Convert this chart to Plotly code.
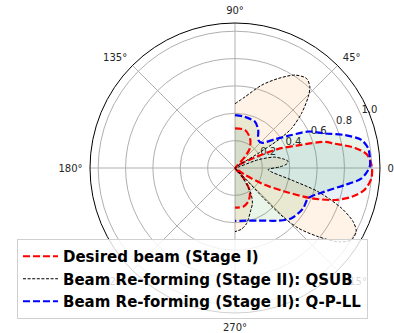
import plotly.graph_objects as go

# Beam patterns over the front half-plane (degrees, normalised gain)
theta_desired = [90, 75, 63, 53, 48.5, 43, 35, 28, 24, 20, 16.3, 13.7, 9.5, 5.8, 0.7,
                 -4.3, -9.6, -13.8, -17.7, -21.6, -25.4, -29.5, -35, -43, -50, -57.7,
                 -68.5, -78, -90]
r_desired = [0.29, 0.287, 0.243, 0.18, 0.11, 0.0, 0.05, 0.16, 0.34, 0.48, 0.68, 0.75,
             0.89, 0.97, 1.0, 1.0, 0.96, 0.88, 0.77, 0.60, 0.40, 0.25, 0.08, 0.0, 0.1,
             0.205, 0.264, 0.289, 0.29]

theta_qsub = [90, 82, 72.2, 64.2, 57.2, 51.4, 47.3, 44.2, 39.4, 35, 32.9, 32.2, 30,
              19.6, 15.4, 10.5, 7.5, 4.5, 1.5, -2.9, -12, -15.9, -20.7, -24.4, -27.6,
              -31.7, -35.5, -39.5, -43.5, -45.5, -46.5, -48, -52, -58, -64, -69.6,
              -78, -84, -90]
r_qsub = [0.47, 0.525, 0.636, 0.727, 0.808, 0.838, 0.807, 0.747, 0.63, 0.505, 0.376,
          0.2, 0.0, 0.18, 0.30, 0.36, 0.39, 0.38, 0.33, 0.243, 0.423, 0.632, 0.833,
          0.948, 1.0, 1.0, 0.93, 0.79, 0.64, 0.50, 0.30, 0.0, 0.1, 0.22, 0.29, 0.33,
          0.413, 0.45, 0.465]

theta_qpll = [90, 79, 66.6, 58.5, 50.2, 43.5, 35.7, 30.2, 26.4, 21, 16.7, 12.5, 8.4,
              4.8, 0.5, -4.7, -8.8, -14.7, -22.5, -30.5, -41.6, -50.6, -66.1, -90]
r_qpll = [0.387, 0.381, 0.368, 0.325, 0.266, 0.268, 0.36, 0.479, 0.60, 0.704, 0.838,
          0.947, 0.984, 0.989, 0.985, 0.928, 0.812, 0.679, 0.579, 0.579, 0.553, 0.498,
          0.42, 0.387]

names = ["Desired beam (Stage I)",
         "Beam Re-forming (Stage II): QSUB",
         "Beam Re-forming (Stage II): Q-P-LL"]

angle_ticks = [0, 45, 90, 135, 180, 225, 270, 315]
angle_labels = ["0°", "45°", "90°", "135°", "180°", "225°", "270°", "315°"]
radial_ticks = [0.2, 0.4, 0.6, 0.8, 1.0]
radial_labels = ["0.2", "0.4", "0.6", "0.8", "1.0"]
radial_label_angle = 22.5

series = [
    (theta_desired, r_desired, "red", 2.2, "7px,3px", "rgba(31,119,180,0.10)"),
    (theta_qsub, r_qsub, "black", 1.0, "3px,1.6px", "rgba(255,127,14,0.10)"),
    (theta_qpll, r_qpll, "blue", 2.2, "7px,3px", "rgba(44,160,44,0.10)"),
]

fig = go.Figure()

# radial tick labels, upright, set off along the 22.5 degree ray (under the curves)
fig.add_trace(go.Scatterpolar(
    theta=[radial_label_angle] * len(radial_ticks), r=radial_ticks,
    mode="text", text=radial_labels, textposition="top right",
    textfont=dict(family="DejaVu Sans", size=10, color="#262626"),
    showlegend=False, hoverinfo="skip", cliponaxis=False))

# shaded areas
for th, r, col, w, dash, fillc in series:
    fig.add_trace(go.Scatterpolar(
        theta=th, r=r, mode="lines", fill="toself", fillcolor=fillc,
        line=dict(width=0, shape="spline", smoothing=0.8),
        showlegend=False, hoverinfo="skip"))

# outlines
for (th, r, col, w, dash, fillc), nm in zip(series, names):
    fig.add_trace(go.Scatterpolar(
        theta=th, r=r, mode="lines", name=nm,
        line=dict(color=col, width=w, dash=dash, shape="spline", smoothing=0.8)))

W, H = 394, 333
cx, cy, R = 235, 168, 145

fig.update_layout(
    width=W, height=H,
    margin=dict(l=0, r=0, t=0, b=0),
    paper_bgcolor="white",
    font=dict(family="DejaVu Sans", size=10, color="#262626"),
    polar=dict(
        domain=dict(x=[(cx - R) / W, (cx + R) / W],
                    y=[1 - (cy + R) / H, 1 - (cy - R) / H]),
        bgcolor="white",
        angularaxis=dict(
            direction="counterclockwise", rotation=0,
            tickmode="array", tickvals=angle_ticks, ticktext=angle_labels,
            ticks="outside", ticklen=5, tickcolor="rgba(0,0,0,0)",
            showline=True, linecolor="black", linewidth=1,
            showgrid=True, gridcolor="#b0b0b0", gridwidth=0.8,
            tickfont=dict(size=10, color="#262626")),
        radialaxis=dict(
            range=[0, 1.06], angle=radial_label_angle,
            tickmode="array", tickvals=radial_ticks,
            showticklabels=False, ticks="", showline=False,
            showgrid=True, gridcolor="#b0b0b0", gridwidth=0.8),
    ),
    legend=dict(
        x=17 / W, y=1 - 239 / H, xanchor="left", yanchor="top",
        bgcolor="rgba(255,255,255,0.82)", bordercolor="#d0d0d0", borderwidth=1,
        font=dict(family="DejaVu Sans", size=15, color="black", weight="bold"),
        tracegroupgap=0, itemwidth=35),
)

fig.write_html("out.html")
